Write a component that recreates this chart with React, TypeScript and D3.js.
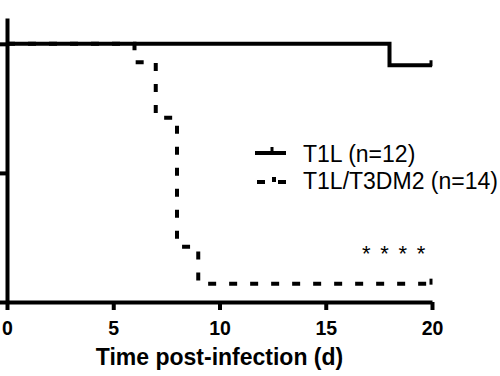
import React, { useEffect, useRef } from "react";
import * as d3 from "d3";

// Survival data (percent survival)
const t1lDays = [0, 18, 20];
const t1lSurvival = [100, 91.7, 91.7];
const t3Days = [0, 6, 7, 8, 9, 20];
const t3Survival = [100, 92.9, 71.4, 21.4, 7.1, 7.1];
const xTicks = [0, 5, 10, 15, 20];
const yTicks = [0, 50, 100];
const legendLabels = ["T1L (n=12)", "T1L/T3DM2 (n=14)"];
const xTitle = "Time post-infection (d)";
const significance = "* * * *";

const W = 500;
const H = 376;
const FONT = "'Liberation Sans', Arial, Helvetica, sans-serif";

export default function App() {
  const ref = useRef<SVGSVGElement | null>(null);

  useEffect(() => {
    const svg = d3.select(ref.current);
    svg.selectAll("*").remove();

    const x = d3.scaleLinear().domain([0, 20]).range([7, 432]);
    const y = d3.scaleLinear().domain([0, 110]).range([302, 18]);

    // Y axis (labels cropped in reference)
    const yAxis = d3
      .axisLeft(y)
      .tickValues(yTicks)
      .tickSize(8)
      .tickSizeOuter(0)
      .tickFormat(() => "");
    const gy = svg.append("g").attr("transform", `translate(${x(0)},0)`).call(yAxis);
    gy.select(".domain").attr("stroke", "#000").attr("stroke-width", 4);
    gy.selectAll(".tick line").attr("stroke", "#000").attr("stroke-width", 4);

    // X axis
    const xAxis = d3
      .axisBottom(x)
      .tickValues(xTicks)
      .tickSize(8)
      .tickSizeOuter(0)
      .tickPadding(11)
      .tickFormat((d) => String(d));
    const gx = svg.append("g").attr("transform", `translate(0,${y(0)})`).call(xAxis);
    gx.select(".domain").attr("stroke", "#000").attr("stroke-width", 4);
    gx.selectAll(".tick line").attr("stroke", "#000").attr("stroke-width", 4);
    gx.selectAll(".tick text")
      .attr("fill", "#000")
      .attr("font-family", FONT)
      .attr("font-size", 19.5)
      .attr("font-weight", "bold");

    svg
      .append("text")
      .attr("x", (x(0) + x(20)) / 2)
      .attr("y", 365)
      .attr("text-anchor", "middle")
      .attr("font-family", FONT)
      .attr("font-size", 23)
      .attr("font-weight", "bold")
      .attr("fill", "#000")
      .text(xTitle);

    const line = d3
      .line<[number, number]>()
      .x((d) => x(d[0]))
      .y((d) => y(d[1]))
      .curve(d3.curveStepAfter);

    const t1l: [number, number][] = t1lDays.map((d, i) => [d, t1lSurvival[i]]);
    const t3: [number, number][] = t3Days.map((d, i) => [d, t3Survival[i]]);

    // dashed curve
    svg
      .append("path")
      .attr("d", line(t3))
      .attr("fill", "none")
      .attr("stroke", "#000")
      .attr("stroke-width", 4)
      .attr("stroke-dasharray", "8,13");

    // solid curve
    svg
      .append("path")
      .attr("d", line(t1l))
      .attr("fill", "none")
      .attr("stroke", "#000")
      .attr("stroke-width", 4);

    // censor ticks at end
    const censor = (d: [number, number]) =>
      svg
        .append("line")
        .attr("x1", x(d[0]) - 1)
        .attr("x2", x(d[0]) - 1)
        .attr("y1", y(d[1]) + 1)
        .attr("y2", y(d[1]) - 5)
        .attr("stroke", "#000")
        .attr("stroke-width", 3);
    censor(t1l[t1l.length - 1]);
    censor(t3[t3.length - 1]);

    // Legend
    const lg = svg.append("g");
    lg.append("line")
      .attr("x1", 255)
      .attr("x2", 286)
      .attr("y1", 153)
      .attr("y2", 153)
      .attr("stroke", "#000")
      .attr("stroke-width", 4);
    lg.append("line")
      .attr("x1", 272)
      .attr("x2", 272)
      .attr("y1", 153)
      .attr("y2", 147)
      .attr("stroke", "#000")
      .attr("stroke-width", 3);
    lg.append("line")
      .attr("x1", 257)
      .attr("x2", 286)
      .attr("y1", 182)
      .attr("y2", 182)
      .attr("stroke", "#000")
      .attr("stroke-width", 4)
      .attr("stroke-dasharray", "8,13");
    lg.append("rect")
      .attr("x", 272)
      .attr("y", 177)
      .attr("width", 4)
      .attr("height", 5)
      .attr("fill", "#000");
    legendLabels.forEach((t, i) => {
      lg.append("text")
        .attr("x", 303)
        .attr("y", 162 + i * 27)
        .attr("font-family", FONT)
        .attr("font-size", 23)
        .attr("fill", "#000")
        .text(t);
    });

    svg
      .append("text")
      .attr("x", 362)
      .attr("y", 261)
      .attr("font-family", FONT)
      .attr("font-size", 22)
      .attr("letter-spacing", 1.8)
      .attr("fill", "#000")
      .text(significance);
  }, []);

  return (
    <div style={{ position: "absolute", left: 0, top: 0 }}>
      <svg ref={ref} width={W} height={H} style={{ display: "block", background: "#fff" }} />
    </div>
  );
}
